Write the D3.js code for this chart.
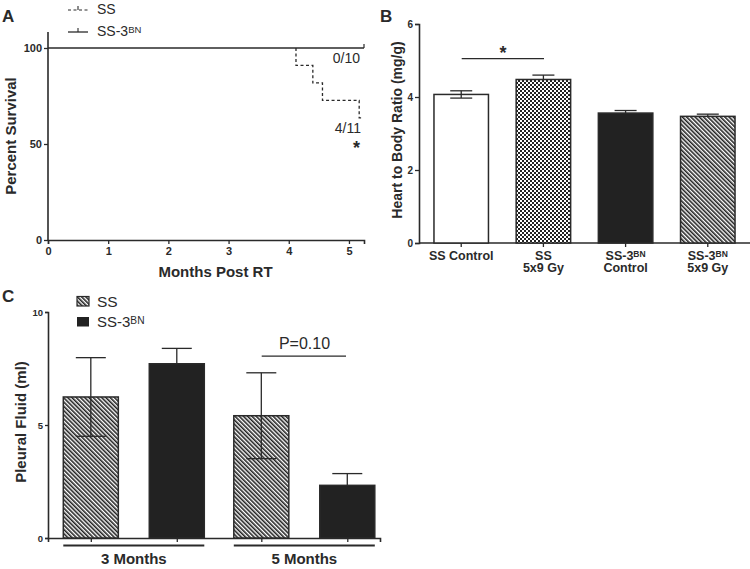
<!DOCTYPE html>
<html><head><meta charset="utf-8">
<script src="https://cdn.jsdelivr.net/npm/d3@7"></script>
<style>
body{margin:0;background:#fff;}
svg{display:block;font-family:"Liberation Sans",Arial,sans-serif;}
</style></head>
<body>
<svg id="c" width="750" height="569"></svg>
<script>
// ---------- DATA ----------
// Panel A: Kaplan-Meier survival
const ssTimes = [0, 4.12, 4.40, 4.56, 5.17, 5.22];
const ssSurvival = [100, 90.9, 81.8, 72.7, 63.6, 63.6];
const ss3bnTimes = [0, 5.25];
const ss3bnSurvival = [100, 100];
const aXTicks = [0, 1, 2, 3, 4, 5];
const aYTicks = [0, 50, 100];

// Panel B: heart to body ratio
const bCategories = ["SS Control", "SS 5x9 Gy", "SS-3BN Control", "SS-3BN 5x9 Gy"];
const bValues = [4.07, 4.48, 3.56, 3.47];
const bErrors = [0.10, 0.12, 0.07, 0.06];
const bFills = ["white", "check", "solid", "hatch"];
const bYTicks = [0, 2, 4, 6];

// Panel C: pleural fluid
const cGroups = ["3 Months", "5 Months"];
const cSeries = ["SS", "SS-3BN"];
const cValues = { "SS": [6.24, 5.41], "SS-3BN": [7.71, 2.33] };
const cErrors = { "SS": [1.74, 1.90], "SS-3BN": [0.68, 0.52] };
const cYTicks = [0, 5, 10];

// ---------- SETUP ----------
const ink = "#2a2a2a";
const fmt = d3.format("d");
const svg = d3.select("#c");
const defs = svg.append("defs");
const chk = defs.append("pattern").attr("id", "check").attr("patternUnits", "userSpaceOnUse")
  .attr("width", 4).attr("height", 4);
chk.append("rect").attr("width", 4).attr("height", 4).attr("fill", "#222");
chk.append("rect").attr("x", 0).attr("y", 0).attr("width", 2).attr("height", 2).attr("fill", "#fff");
chk.append("rect").attr("x", 2).attr("y", 2).attr("width", 2).attr("height", 2).attr("fill", "#fff");
const hat = defs.append("pattern").attr("id", "hatch").attr("patternUnits", "userSpaceOnUse")
  .attr("width", 3).attr("height", 3).attr("patternTransform", "rotate(-45)");
hat.append("rect").attr("width", 3).attr("height", 3).attr("fill", "#fff");
hat.append("rect").attr("width", 1.6).attr("height", 3).attr("fill", "#222");

function fillOf(k) {
  if (k === "white") return "#fff";
  if (k === "check") return "url(#check)";
  if (k === "hatch" || k === "SS") return "url(#hatch)";
  return "#222";
}
function styleAxis(g) {
  g.selectAll(".domain").attr("stroke", ink).attr("stroke-width", 1.6);
  g.selectAll(".tick line").attr("stroke", ink).attr("stroke-width", 1.3);
  g.selectAll(".tick text").attr("fill", ink).attr("font-weight", "bold")
    .attr("font-family", "Liberation Sans, Arial, sans-serif");
}
function panelLabel(t, x, y) {
  svg.append("text").attr("x", x).attr("y", y).text(t)
    .attr("font-size", 17).attr("font-weight", "bold").attr("fill", ink);
}
function superLabel(g, x, y, base, sup, size, weight, anchor) {
  const t = g.append("text").attr("x", x).attr("y", y).attr("font-size", size)
    .attr("font-weight", weight).attr("fill", ink).attr("text-anchor", anchor || "start");
  t.append("tspan").text(base);
  t.append("tspan").text(sup).attr("font-size", size * 0.68).attr("dy", -size * 0.2);
  return t;
}

// ---------- PANEL A ----------
const ax = d3.scaleLinear().domain([0, 5.25]).range([48, 364]);
const ay = d3.scaleLinear().domain([0, 100]).range([240, 48]);
const gA = svg.append("g");
gA.append("g").attr("transform", "translate(0,240)")
  .call(d3.axisBottom(ax).tickValues(aXTicks).tickFormat(fmt).tickSizeOuter(0).tickSize(4).tickPadding(3))
  .call(g => g.selectAll("text").attr("font-size", 11)).call(styleAxis);
gA.append("g").attr("transform", "translate(48,0)")
  .call(d3.axisLeft(ay).tickValues(aYTicks).tickFormat(fmt).tickSizeOuter(0).tickSize(4).tickPadding(2))
  .call(g => g.select(".domain").attr("d", "M0,240V32"))
  .call(g => g.selectAll("text").attr("font-size", 11)).call(styleAxis);

const stepLine = d3.line().x(d => ax(d[0])).y(d => ay(d[1])).curve(d3.curveStepAfter);
gA.append("path").datum(ss3bnTimes.map((t, i) => [t, ss3bnSurvival[i]]))
  .attr("d", stepLine).attr("fill", "none").attr("stroke", ink).attr("stroke-width", 1.4);
gA.append("line").attr("x1", ax(5.25)).attr("x2", ax(5.25)).attr("y1", ay(100)).attr("y2", ay(100) - 4)
  .attr("stroke", ink).attr("stroke-width", 1.2);
// SS dashed curve: drawn from the first drop onward (overlaps solid line before that)
const ssPts = [[ssTimes[1], ssSurvival[0]]].concat(ssTimes.slice(1).map((t, i) => [t, ssSurvival[i + 1]]));
gA.append("path").datum(ssPts)
  .attr("d", stepLine)
  .attr("fill", "none").attr("stroke", ink).attr("stroke-width", 1.3).attr("stroke-dasharray", "3,2.5");

gA.append("text").attr("x", 360).attr("y", 63).attr("text-anchor", "end").attr("font-size", 14).attr("fill", ink).text("0/10");
gA.append("text").attr("x", 361).attr("y", 133).attr("text-anchor", "end").attr("font-size", 14).attr("fill", ink).text("4/11");
gA.append("text").attr("x", 356.5).attr("y", 154).attr("text-anchor", "middle").attr("font-size", 18).attr("font-weight", "bold").attr("fill", ink).text("*");

gA.append("text").attr("transform", "translate(16,136) rotate(-90)").attr("text-anchor", "middle")
  .attr("font-size", 15).attr("font-weight", "bold").attr("fill", ink).text("Percent Survival");
gA.append("text").attr("x", 215.5).attr("y", 276.5).attr("text-anchor", "middle")
  .attr("font-size", 15).attr("font-weight", "bold").attr("fill", ink).text("Months Post RT");

// legend A
gA.append("line").attr("x1", 68).attr("x2", 88).attr("y1", 10).attr("y2", 10)
  .attr("stroke", ink).attr("stroke-width", 1.2).attr("stroke-dasharray", "3,2.5");
gA.append("line").attr("x1", 78).attr("x2", 78).attr("y1", 10).attr("y2", 6).attr("stroke", ink).attr("stroke-width", 1.1);
gA.append("text").attr("x", 97).attr("y", 13.5).attr("font-size", 14).attr("fill", ink).text("SS");
gA.append("line").attr("x1", 68).attr("x2", 88).attr("y1", 32).attr("y2", 32).attr("stroke", ink).attr("stroke-width", 1.3);
gA.append("line").attr("x1", 78).attr("x2", 78).attr("y1", 32).attr("y2", 28).attr("stroke", ink).attr("stroke-width", 1.1);
superLabel(gA, 97, 35.5, "SS-3", "BN", 14, "normal");
panelLabel("A", 2, 22);

// ---------- PANEL B ----------
const bx = d3.scaleBand().domain(bCategories).range([420, 749]).paddingInner(0.337).paddingOuter(0.17);
const by = d3.scaleLinear().domain([0, 6]).range([243, 24]);
const gB = svg.append("g");
gB.append("g").attr("transform", "translate(0,243)")
  .call(d3.axisBottom(bx).tickSizeOuter(0).tickSize(4).tickFormat(""))
  .call(g => g.select(".domain").attr("d", "M419,0H750"))
  .call(styleAxis);
gB.append("g").attr("transform", "translate(419,0)")
  .call(d3.axisLeft(by).tickValues(bYTicks).tickFormat(fmt).tickSizeOuter(0).tickSize(4).tickPadding(2))
  .call(g => g.selectAll("text").attr("font-size", 10))
  .call(styleAxis);

bCategories.forEach((c, i) => {
  const x0 = bx(c), w = bx.bandwidth(), cx = x0 + w / 2;
  const hasLower = bFills[i] === "white";
  gB.append("rect").attr("x", x0).attr("y", by(bValues[i])).attr("width", w)
    .attr("height", by(0) - by(bValues[i])).attr("fill", fillOf(bFills[i]))
    .attr("stroke", ink).attr("stroke-width", 1.5);
  const lo = hasLower ? bValues[i] - bErrors[i] : bValues[i];
  gB.append("line").attr("x1", cx).attr("x2", cx).attr("y1", by(lo)).attr("y2", by(bValues[i] + bErrors[i]))
    .attr("stroke", ink).attr("stroke-width", 1.3);
  gB.append("line").attr("x1", cx - 11).attr("x2", cx + 11)
    .attr("y1", by(bValues[i] + bErrors[i])).attr("y2", by(bValues[i] + bErrors[i]))
    .attr("stroke", ink).attr("stroke-width", 1.3);
  if (hasLower) {
    gB.append("line").attr("x1", cx - 11).attr("x2", cx + 11)
      .attr("y1", by(lo)).attr("y2", by(lo)).attr("stroke", ink).attr("stroke-width", 1.3);
  }
  // category labels
  const parts = c.startsWith("SS-3BN") ? ["SS-3BN", c.replace("SS-3BN ", "")] :
    (c === "SS Control" ? ["SS Control"] : ["SS", c.replace("SS ", "")]);
  parts.forEach((p, j) => {
    const y = 259.5 + j * 12.5;
    if (p === "SS-3BN") superLabel(gB, cx, y, "SS-3", "BN", 12.5, "bold", "middle");
    else gB.append("text").attr("x", cx).attr("y", y).attr("text-anchor", "middle")
      .attr("font-size", 12.5).attr("font-weight", "bold").attr("fill", ink).text(p);
  });
});
// significance
gB.append("line").attr("x1", 461.7).attr("x2", 544).attr("y1", by(5.05)).attr("y2", by(5.05))
  .attr("stroke", ink).attr("stroke-width", 1.3);
gB.append("text").attr("x", 503).attr("y", 58.5).attr("text-anchor", "middle")
  .attr("font-size", 18).attr("font-weight", "bold").attr("fill", ink).text("*");
gB.append("text").attr("transform", "translate(402,130) rotate(-90)").attr("text-anchor", "middle")
  .attr("font-size", 14).attr("font-weight", "bold").attr("fill", ink).text("Heart to Body Ratio (mg/g)");
panelLabel("B", 380, 22);

// ---------- PANEL C ----------
const cx0 = d3.scaleBand().domain(cGroups).range([63.3, 374.8]).paddingInner(0.173).paddingOuter(0);
const cx1 = d3.scaleBand().domain(cSeries).range([0, cx0.bandwidth()]).paddingInner(0.36).paddingOuter(0);
const cy = d3.scaleLinear().domain([0, 10]).range([538, 312]);
const gC = svg.append("g");
const barCenters = [];
cGroups.forEach(g => cSeries.forEach(s => barCenters.push(cx0(g) + cx1(s) + cx1.bandwidth() / 2)));
const cxAxisScale = d3.scaleLinear().domain([48, 380]).range([48, 380]);
gC.append("g").attr("transform", "translate(0,538)")
  .call(d3.axisBottom(cxAxisScale).tickValues(barCenters).tickSizeOuter(0).tickSize(4).tickFormat(""))
  .call(styleAxis);
gC.append("g").attr("transform", "translate(48,0)")
  .call(d3.axisLeft(cy).tickValues(cYTicks).tickFormat(fmt).tickSizeOuter(0).tickSize(3).tickPadding(2))
  .call(g => g.selectAll("text").attr("font-size", 9.5))
  .call(styleAxis);

cGroups.forEach((g, gi) => {
  cSeries.forEach(s => {
    const v = cValues[s][gi], e = cErrors[s][gi];
    const x0 = cx0(g) + cx1(s), w = cx1.bandwidth(), cc = x0 + w / 2;
    const solid = s === "SS-3BN";
    gC.append("rect").attr("x", x0).attr("y", cy(v)).attr("width", w).attr("height", cy(0) - cy(v))
      .attr("fill", solid ? "#222" : "url(#hatch)").attr("stroke", ink).attr("stroke-width", 1.5);
    const lo = solid ? v : v - e;
    gC.append("line").attr("x1", cc).attr("x2", cc).attr("y1", cy(lo)).attr("y2", cy(v + e))
      .attr("stroke", ink).attr("stroke-width", 1.3);
    gC.append("line").attr("x1", cc - 15).attr("x2", cc + 15).attr("y1", cy(v + e)).attr("y2", cy(v + e))
      .attr("stroke", ink).attr("stroke-width", 1.3);
    if (!solid) gC.append("line").attr("x1", cc - 15).attr("x2", cc + 15).attr("y1", cy(lo)).attr("y2", cy(lo))
      .attr("stroke", ink).attr("stroke-width", 1.3);
  });
  // group underline + label
  gC.append("line").attr("x1", cx0(g)).attr("x2", cx0(g) + cx0.bandwidth()).attr("y1", 545.5).attr("y2", 545.5)
    .attr("stroke", ink).attr("stroke-width", 2);
  gC.append("text").attr("x", cx0(g) + cx0.bandwidth() / 2).attr("y", 563.5).attr("text-anchor", "middle")
    .attr("font-size", 15).attr("font-weight", "bold").attr("fill", ink).text(g);
});
// P value
gC.append("line").attr("x1", 261.7).attr("x2", 346).attr("y1", cy(8.05)).attr("y2", cy(8.05))
  .attr("stroke", ink).attr("stroke-width", 1.3);
gC.append("text").attr("x", 304.5).attr("y", 348.5).attr("text-anchor", "middle")
  .attr("font-size", 16).attr("fill", ink).text("P=0.10");
gC.append("text").attr("transform", "translate(26,422) rotate(-90)").attr("text-anchor", "middle")
  .attr("font-size", 15).attr("font-weight", "bold").attr("fill", ink).text("Pleural Fluid (ml)");
// legend C
gC.append("rect").attr("x", 77).attr("y", 296.5).attr("width", 12).attr("height", 9.5)
  .attr("fill", "url(#hatch)").attr("stroke", ink).attr("stroke-width", 1.2);
gC.append("text").attr("x", 97).attr("y", 306.5).attr("font-size", 15.5).attr("fill", ink).text("SS");
gC.append("rect").attr("x", 77).attr("y", 317).attr("width", 12).attr("height", 9.5).attr("fill", "#222");
superLabel(gC, 97, 327, "SS-3", "BN", 15, "normal");
panelLabel("C", 2, 302);
</script>
</body></html>
